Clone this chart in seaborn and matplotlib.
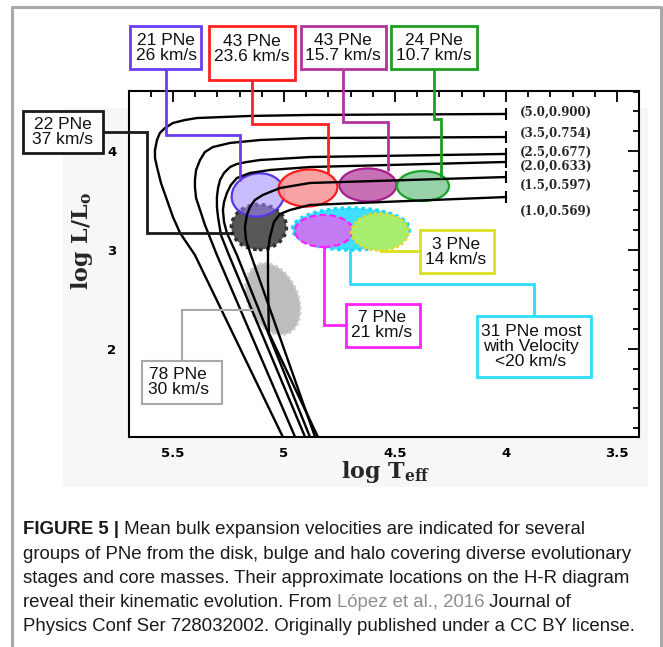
import numpy as np
import pandas as pd
import matplotlib
matplotlib.use("Agg")
import matplotlib.pyplot as plt
import seaborn as sns
from matplotlib.patches import Ellipse, Rectangle
from matplotlib.lines import Line2D
from matplotlib.transforms import ScaledTranslation
from matplotlib.ticker import MultipleLocator, FuncFormatter

# ---------------- data ----------------
track_labels = ["(5.0,0.900)", "(3.5,0.754)", "(2.5,0.677)",
                "(2.0,0.633)", "(1.5,0.597)", "(1.0,0.569)"]

t1_logT = [4.0, 4.883, 5.153, 5.392, 5.446, 5.5, 5.536, 5.559, 5.572, 5.581, 5.581, 5.572, 5.554, 5.527, 5.5, 5.468, 5.401, 5.005]
t1_logL = [4.374, 4.364, 4.354, 4.333, 4.313, 4.283, 4.232, 4.182, 4.111, 4.01, 3.929, 3.838, 3.677, 3.505, 3.333, 3.172, 2.949, 1.111]

t2_logT = [4.0, 4.883, 5.108, 5.243, 5.32, 5.356, 5.378, 5.396, 5.401, 5.401, 5.396, 5.378, 5.356, 5.302, 4.95]
t2_logL = [4.141, 4.131, 4.111, 4.081, 4.04, 3.99, 3.909, 3.808, 3.707, 3.636, 3.525, 3.404, 3.253, 2.949, 1.111]

t3_logT = [4.0, 4.883, 5.108, 5.167, 5.212, 5.243, 5.27, 5.288, 5.297, 5.302, 5.302, 5.297, 5.284, 5.248, 4.905]
t3_logL = [3.97, 3.939, 3.909, 3.889, 3.869, 3.838, 3.778, 3.707, 3.626, 3.535, 3.434, 3.333, 3.152, 2.949, 1.111]

t4_logT = [4.0, 4.883, 5.063, 5.153, 5.212, 5.239, 5.257, 5.27, 5.275, 5.27, 5.257, 5.212, 4.883]
t4_logL = [3.889, 3.838, 3.808, 3.778, 3.727, 3.657, 3.576, 3.485, 3.404, 3.283, 3.172, 2.949, 1.111]

t5_logT = [4.0, 4.883, 5.018, 5.095, 5.131, 5.153, 5.167, 5.176, 5.171, 5.149, 4.86]
t5_logL = [3.737, 3.677, 3.626, 3.556, 3.505, 3.434, 3.354, 3.232, 3.101, 2.949, 1.111]

t6_logT = [4.0, 4.883, 4.973, 5.018, 5.045, 5.063, 5.072, 5.072, 5.068, 4.847]
t6_logL = [3.535, 3.455, 3.404, 3.364, 3.283, 3.131, 3.0, 2.697, 2.162, 1.111]

track_logT = [t1_logT, t2_logT, t3_logT, t4_logT, t5_logT, t6_logT]
track_logL = [t1_logL, t2_logL, t3_logL, t4_logL, t5_logL, t6_logL]

# PN groups (approximate location on the H-R diagram)
group_texts = ["22 PNe\n37 km/s", "21 PNe\n26 km/s", "43 PNe\n23.6 km/s",
               "43 PNe\n15.7 km/s", "24 PNe\n10.7 km/s",
               "31 PNe most\nwith Velocity\n<20 km/s", "7 PNe\n21 km/s",
               "3 PNe\n14 km/s", "78 PNe\n30 km/s"]
group_logT = [5.113, 5.117, 4.892, 4.622, 4.374, 4.698, 4.820, 4.568, 5.050]
group_logL = [3.232, 3.556, 3.626, 3.657, 3.646, 3.212, 3.192, 3.182, 2.505]

x_ticks = [5.5, 5.0, 4.5, 4.0, 3.5]
y_ticks = [2, 3, 4]

caption_lines = [
    "groups of PNe from the disk, bulge and halo covering diverse evolutionary",
    "stages and core masses. Their approximate locations on the H-R diagram",
]

# ---------------- layout / style ----------------
W, H = 663, 647
sns.set_style("white")
plt.rcParams["mathtext.fontset"] = "dejavuserif"

fig = plt.figure(figsize=(W / 100, H / 100), dpi=100)
fig.patch.set_facecolor("white")

def F(x, y):
    return (x / W, 1 - y / H)

# light scanned-image background
bg = Rectangle(F(63, 487), 585 / W, 379 / H, transform=fig.transFigure,
               facecolor="#f7f7f7", edgecolor="none", zorder=-5)
fig.add_artist(bg)

ax = fig.add_axes([129 / W, 1 - 437 / H, 510 / W, 346 / H])
ax.set_facecolor("white")

rows = []
for i, (tx, ly) in enumerate(zip(track_logT, track_logL)):
    for a, b in zip(tx, ly):
        rows.append({"track": track_labels[i], "logT": a, "logL": b})
df = pd.DataFrame(rows)
sns.lineplot(data=df, x="logT", y="logL", units="track", estimator=None,
             sort=False, color="black", lw=1.7, ax=ax, zorder=4, legend=False)

# end bars of the tracks
for tx, ly in zip(track_logT, track_logL):
    ax.plot([tx[0]], [ly[0]], marker="|", ms=8, mew=1.5, color="black", zorder=4)

# track labels
label_y_off = [0.02, 0.04, 0.02, -0.04, -0.08, -0.14]
for i, lab in enumerate(track_labels):
    ax.text(3.937, track_logL[i][0] + label_y_off[i], lab, fontsize=8.5,
            family="DejaVu Serif", weight="bold", va="center", ha="left", zorder=5)

ax.set_xlim(5.698, 3.401)
ax.set_ylim(1.111, 4.606)
ax.set_xticks(x_ticks)
ax.set_yticks(y_ticks)
ax.xaxis.set_minor_locator(MultipleLocator(0.1))
ax.yaxis.set_minor_locator(MultipleLocator(0.2))
ax.xaxis.set_major_formatter(FuncFormatter(lambda v, p: f"{v:g}"))
ax.yaxis.set_major_formatter(FuncFormatter(lambda v, p: f"{v:g}"))
ax.tick_params(which="both", direction="in", top=True, right=True, width=1.3,
               colors="black")
ax.tick_params(which="major", length=8)
ax.tick_params(which="minor", length=4)
ax.tick_params(axis="x", pad=7)
ax.tick_params(axis="y", pad=9)
for lab in ax.get_xticklabels() + ax.get_yticklabels():
    lab.set_fontweight("bold")
    lab.set_fontsize(9.5)
    lab.set_family("DejaVu Sans")
for s in ax.spines.values():
    s.set_linewidth(1.5)
    s.set_color("black")
ax.set_xlabel("")
ax.set_ylabel("")

fig.text(*F(386, 472), r"log T$_\mathbf{eff}$", family="DejaVu Serif", weight="bold",
         fontsize=16, ha="center", va="center")
fig.text(*F(82, 241), r"log L/L$_\mathbf{o}$", family="DejaVu Serif", weight="bold",
         fontsize=16, ha="center", va="center", rotation=90)

# ellipses: size in pixels, drawn at data centres
def ell(i, w, h, angle, fc, ec, ls="-", lw=1.6, z=2):
    tr = fig.dpi_scale_trans + ScaledTranslation(group_logT[i], group_logL[i], ax.transData)
    e = Ellipse((0, 0), w / 100, h / 100, angle=angle, transform=tr,
                facecolor=fc, edgecolor=ec, linestyle=ls, linewidth=lw, zorder=z)
    ax.add_patch(e)

ell(5, 117, 42, 0, "#3fe0ff", "#1fd6ff", ls=(0, (1, 1)), lw=2.5, z=2)
ell(6, 58, 32, 0, "#c27bf2", "#ff20ff", ls=(0, (3, 1.5)), lw=1.6, z=2.2)
ell(7, 57, 37, 0, "#a7ee70", "#e2dc22", ls=(0, (1, 1)), lw=2.0, z=2.2)
ell(0, 55, 45, 0, "#575757", "#333333", ls=(0, (1, 1)), lw=2.6, z=2)
ell(1, 53, 43, 10, (0.62, 0.52, 1.0, 0.55), "#5a35e8", lw=1.6, z=2.3)
ell(2, 59, 37, 3, (0.97, 0.60, 0.60, 0.9), "#ff1c1c", lw=1.6, z=2.3)
ell(3, 57, 33, 0, (0.76, 0.38, 0.68, 0.9), "#a5208d", lw=1.6, z=2.3)
ell(4, 52, 30, 0, (0.55, 0.80, 0.62, 0.9), "#1aa52a", lw=1.6, z=2.3)
ell(8, 75, 50, -66, (0.68, 0.68, 0.68, 0.8), "#cfcfcf", ls=(0, (1, 1)), lw=2.0, z=2)

# annotation boxes (pixel layout) and leader lines
boxes = [
    # (group idx, x0, y0, x1, y1, text center x, text center y, color, leader path)
    (0, 23, 111, 103, 153, 63, 132, "#1a1a1a", [(103, 132), (147, 132), (147, 233), (232, 233)]),
    (1, 130, 26, 201, 69, 166, 48, "#6b3cf2", [(166, 69), (166, 135), (240, 135), (240, 180)]),
    (2, 209, 26, 295, 80, 252, 49, "#ff2020", [(252, 80), (252, 124), (328, 124), (328, 172)]),
    (3, 301, 26, 386, 69, 343, 48, "#b4329e", [(343, 69), (343, 122), (388, 122), (388, 170)]),
    (4, 391, 26, 477, 69, 434, 48, "#1f9e1f", [(434, 69), (434, 119), (441, 119), (441, 177)]),
    (5, 477, 316, 591, 377, 531, 347, "#2adcf8", [(534, 316), (534, 284), (350, 284), (350, 250)]),
    (6, 346, 304, 420, 347, 382, 325, "#ff22ff", [(346, 325), (324, 325), (324, 247)]),
    (7, 420, 230, 494, 273, 456, 252, "#d9e021", [(420, 251), (380, 251)]),
    (8, 142, 361, 222, 404, 178, 382, "#a8a8a8", [(182, 361), (182, 310), (253, 310)]),
]
for gi, x0, y0, x1, y1, tx, ty, col, path in boxes:
    lw = 1.5 if gi == 8 else 2.0
    xs = [F(px, py)[0] for px, py in path]
    ys = [F(px, py)[1] for px, py in path]
    fig.add_artist(Line2D(xs, ys, transform=fig.transFigure, color=col, lw=lw,
                          solid_joinstyle="miter", zorder=6))
    r = Rectangle(F(x0, y1), (x1 - x0) / W, (y1 - y0) / H, transform=fig.transFigure,
                  facecolor="white", edgecolor=col, lw=lw, zorder=7)
    fig.add_artist(r)
    fig.text(*F(tx, ty), group_texts[gi], ha="center", va="center", fontsize=12.5,
             family="Liberation Sans", linespacing=1.0, zorder=8, color="#111111")

# outer frame
path = [(12, 647), (12, 7), (661, 7), (661, 647)]
fig.add_artist(Line2D([F(px, py)[0] for px, py in path],
                      [F(px, py)[1] for px, py in path],
                      transform=fig.transFigure, color="#a9a9a9", lw=2.2, zorder=1))

# caption
fs = 13.4
cap_kw = dict(fontsize=fs, family="Liberation Sans", color="#1a1a1a")
t0 = fig.text(*F(23, 534), "FIGURE 5 |", weight="bold", va="baseline", **cap_kw)
plt.annotate(" Mean bulk expansion velocities are indicated for several",
             xy=(1, 0), xycoords=t0, va="bottom", ha="left", **cap_kw)
fig.text(*F(23, 559), caption_lines[0], va="baseline", **cap_kw)
fig.text(*F(23, 583), caption_lines[1], va="baseline", **cap_kw)
t4 = fig.text(*F(23, 607), "reveal their kinematic evolution. From ", va="baseline", **cap_kw)
t4b = plt.annotate("López et al., 2016", xy=(1, 0), xycoords=t4, va="bottom", ha="left",
                   fontsize=fs, family="Liberation Sans", color="#8e8e8e")
plt.annotate(" Journal of", xy=(1, 0), xycoords=t4b, va="bottom", ha="left", **cap_kw)
fig.text(*F(23, 631), "Physics Conf Ser 728032002. Originally published under a CC BY license.",
         va="baseline", **cap_kw)

fig.savefig("out.png", dpi=100)
